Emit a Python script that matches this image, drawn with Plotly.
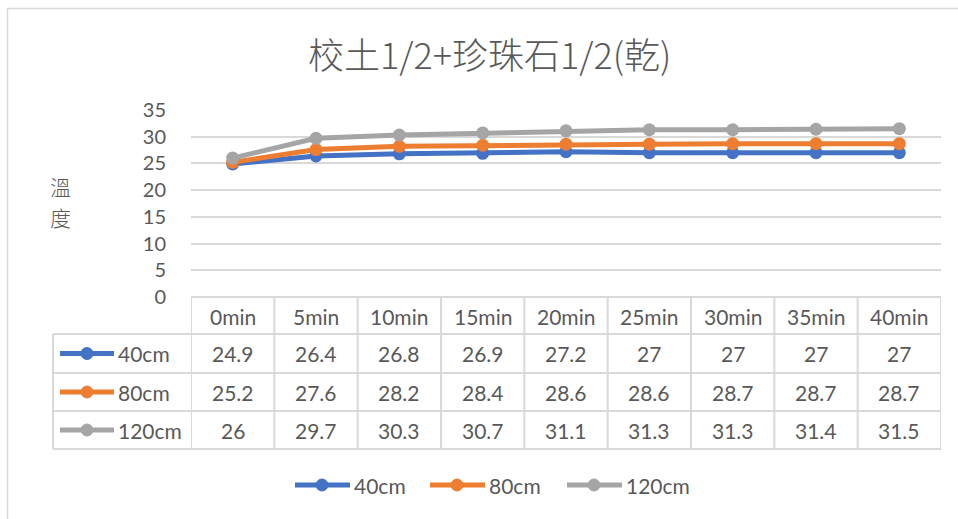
import plotly.graph_objects as go

# Temperature readings by depth over time
times = ["0min", "5min", "10min", "15min", "20min", "25min", "30min", "35min", "40min"]
depths = ["40cm", "80cm", "120cm"]
temp_40 = [24.9, 26.4, 26.8, 26.9, 27.2, 27, 27, 27, 27]
temp_80 = [25.2, 27.6, 28.2, 28.4, 28.6, 28.6, 28.7, 28.7, 28.7]
temp_120 = [26, 29.7, 30.3, 30.7, 31.1, 31.3, 31.3, 31.4, 31.5]
y_ticks = [0, 5, 10, 15, 20, 25, 30, 35]

series = [temp_40, temp_80, temp_120]
colors = ["#4472C4", "#ED7D31", "#A5A5A5"]

W, H = 958, 519
PL, PR, PT, PB = 191, 941, 110, 297  # plot-area edges in pixels
TEXT = "#595959"
GRID = "#D9D9D9"
FONT = "Lato"
CJK = "Noto Sans CJK TC"


def px(p):
    return (p - PL) / (PR - PL)


def py(p):
    return (PB - p) / (PB - PT)


def label(x, y, text, size, xref="paper", xanchor="center", family=FONT, weight=None):
    font = dict(family=family, size=size, color=TEXT)
    if weight:
        font["weight"] = weight
    return dict(x=x, y=y, xref=xref, yref="paper", text=text, showarrow=False,
                xanchor=xanchor, yanchor="middle", font=font)


fig = go.Figure()
xs = list(range(len(times)))
for name, vals, c in zip(depths, series, colors):
    fig.add_trace(go.Scatter(
        x=xs, y=vals, name=name, mode="lines+markers",
        line=dict(color=c, width=5),
        marker=dict(color=c, size=13),
        showlegend=False,
    ))

shapes = []
annotations = []

# chart frame (top and left edges)
shapes.append(dict(type="line", xref="paper", yref="paper",
                   x0=px(7.5), x1=px(W), y0=py(8.5), y1=py(8.5),
                   line=dict(color=GRID, width=1.5)))
shapes.append(dict(type="line", xref="paper", yref="paper",
                   x0=px(7.5), x1=px(7.5), y0=py(8.5), y1=py(H),
                   line=dict(color=GRID, width=1.5)))

# data table grid
row_edges = [297, 334, 373, 411, 449]
n = len(times)
for k, r in enumerate(row_edges):
    x_left = px(PL) if k == 0 else px(53)
    shapes.append(dict(type="line", xref="paper", yref="paper",
                       x0=x_left, x1=px(PR), y0=py(r), y1=py(r),
                       line=dict(color=GRID, width=2)))
for i in range(n + 1):
    shapes.append(dict(type="line", xref="x", yref="paper",
                       x0=i - 0.5, x1=i - 0.5, y0=py(297), y1=py(449),
                       line=dict(color=GRID, width=2)))
shapes.append(dict(type="line", xref="paper", yref="paper",
                   x0=px(53), x1=px(53), y0=py(334), y1=py(449),
                   line=dict(color=GRID, width=2)))

# header row
for i, t in enumerate(times):
    annotations.append(label(i, py(316), t, 21, xref="x"))

# series rows with legend keys
for k, (name, vals, c) in enumerate(zip(depths, series, colors)):
    cy = (row_edges[k + 1] + row_edges[k + 2]) / 2
    shapes.append(dict(type="line", xref="paper", yref="paper",
                       x0=px(60), x1=px(114), y0=py(cy), y1=py(cy),
                       line=dict(color=c, width=5)))
    shapes.append(dict(type="circle", xref="paper", yref="paper",
                       x0=px(81), x1=px(93), y0=py(cy - 6), y1=py(cy + 6),
                       fillcolor=c, line=dict(color=c, width=1)))
    annotations.append(label(px(116), py(cy), name, 21, xanchor="left"))
    for i, v in enumerate(vals):
        annotations.append(label(i, py(cy), f"{v:g}", 21, xref="x"))

# bottom legend
legend_pos = [295, 430, 567]
for name, c, x0 in zip(depths, colors, legend_pos):
    cy = 485
    shapes.append(dict(type="line", xref="paper", yref="paper",
                       x0=px(x0), x1=px(x0 + 55), y0=py(cy), y1=py(cy),
                       line=dict(color=c, width=5)))
    shapes.append(dict(type="circle", xref="paper", yref="paper",
                       x0=px(x0 + 21), x1=px(x0 + 33), y0=py(cy - 6), y1=py(cy + 6),
                       fillcolor=c, line=dict(color=c, width=1)))
    annotations.append(label(px(x0 + 57), py(cy), name, 21, xanchor="left"))

# title
annotations.append(label(px(489), py(53), "校土1/2+珍珠石1/2(乾)", 36,
                         family=CJK, weight=300))
# y-axis title, one character per line
annotations.append(label(px(60), py(186), "溫", 21, family=CJK, weight=300))
annotations.append(label(px(60), py(217), "度", 21, family=CJK, weight=300))

fig.update_layout(
    width=W, height=H, autosize=False,
    margin=dict(l=PL, r=W - PR, t=PT, b=H - PB, pad=0),
    paper_bgcolor="white", plot_bgcolor="white",
    shapes=shapes, annotations=annotations,
    xaxis=dict(range=[-0.5, n - 0.5], showticklabels=False, showgrid=False,
               zeroline=False, showline=False, fixedrange=True),
    yaxis=dict(range=[0, 35], tickvals=y_ticks, showgrid=True,
               gridcolor=GRID, gridwidth=2, zeroline=False, showline=False,
               ticks="outside", ticklen=20, tickcolor="rgba(0,0,0,0)",
               tickfont=dict(family=FONT, size=20, color=TEXT),
               fixedrange=True),
)

fig.write_html("out.html")
